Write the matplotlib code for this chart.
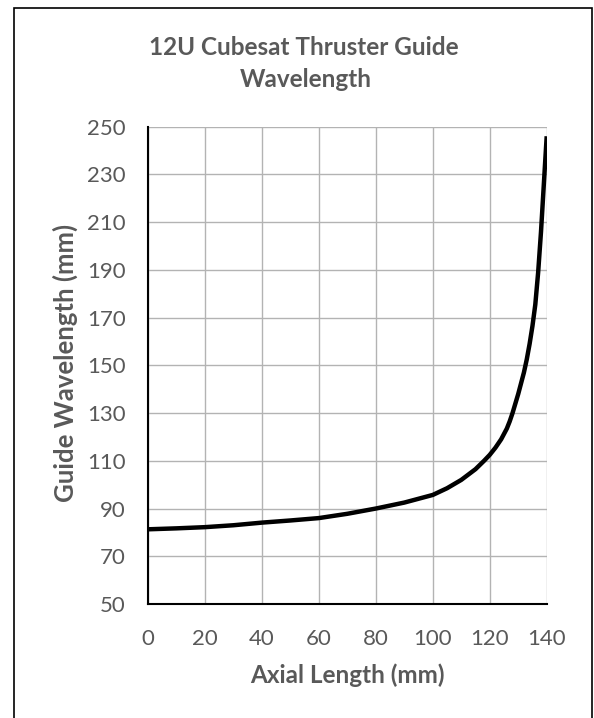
import matplotlib
matplotlib.use("Agg")
import matplotlib.pyplot as plt
from matplotlib.patches import Rectangle

plt.rcParams['font.family'] = ['Lato', 'DejaVu Sans']

axial_mm = [0, 10, 20, 30, 40, 50, 60, 70, 80, 90, 100, 105, 110, 115, 118,
            120, 122, 124, 126, 127, 128, 129, 130, 131, 132, 133, 134, 135,
            136, 137, 138, 139, 140]
guide_mm = [81.3, 81.7, 82.2, 83.0, 84.1, 85.0, 86.0, 87.8, 90.0, 92.5, 95.7,
            98.5, 102.0, 106.5, 110.0, 112.5, 115.5, 119.0, 123.5, 126.5,
            130.0, 134.0, 138.0, 142.5, 147.0, 152.5, 159.0, 166.5, 175.5,
            189.0, 206.0, 226.0, 246.0]
x_ticks = [0, 20, 40, 60, 80, 100, 120, 140]
y_ticks = [50, 70, 90, 110, 130, 150, 170, 190, 210, 230, 250]

TXT = '#595959'
W, H = 594, 718
fig = plt.figure(figsize=(5.94, 7.18), dpi=100)
ax = fig.add_axes([148/W, 1-604/H, (546.7-148)/W, (604-126.7)/H])

ax.plot(axial_mm, guide_mm, color='black', lw=3.2, solid_capstyle='butt',
        solid_joinstyle='round', zorder=3)
ax.set_xlim(0, 140)
ax.set_ylim(50, 250)
ax.set_xticks(x_ticks)
ax.set_yticks(y_ticks)
ax.grid(True, color='#b3b3b3', lw=1.0)
ax.set_axisbelow(True)
ax.tick_params(length=0, colors=TXT, labelsize=16)
ax.tick_params(axis='y', pad=16)
ax.tick_params(axis='x', pad=18)
for s in ['top', 'right']:
    ax.spines[s].set_visible(False)
for s in ['left', 'bottom']:
    ax.spines[s].set_color('black')
    ax.spines[s].set_linewidth(1.5)
    ax.spines[s].set_zorder(4)

fig.text(347/W, 1-675/H, 'Axial Length (mm)', ha='center', va='center',
         fontsize=17.5, fontweight='bold', color=TXT)
fig.text(65/W, 1-363/H, 'Guide Wavelength (mm)', ha='center', va='center',
         rotation=90, fontsize=18.5, fontweight='bold', color=TXT)
fig.text(304/W, 1-55/H, '12U Cubesat Thruster Guide', ha='center',
         va='baseline', fontsize=17.5, fontweight='bold', color=TXT)
fig.text(306/W, 1-87/H, 'Wavelength', ha='center',
         va='baseline', fontsize=17.5, fontweight='bold', color=TXT)

fig.patches.append(Rectangle((13.5/W, -0.01), (592-13.5)/W, 1.01 - 8/H,
                             transform=fig.transFigure, fill=False,
                             edgecolor='black', lw=1.2, clip_on=False))
fig.savefig('out.png', dpi=100)
